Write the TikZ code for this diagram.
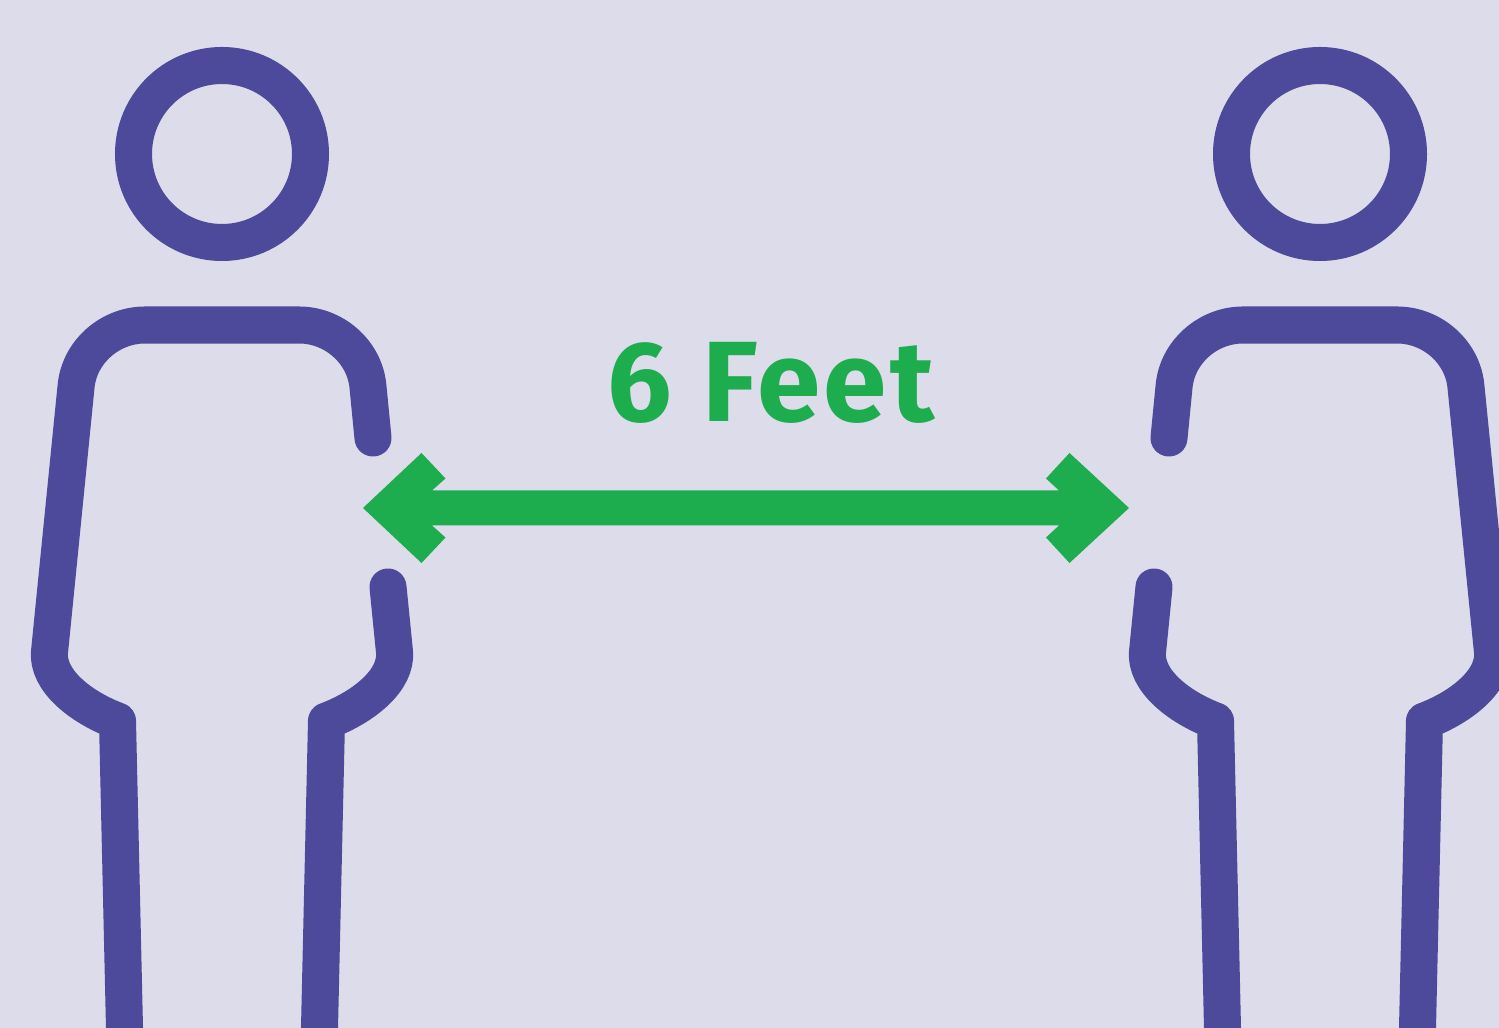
\documentclass[tikz,border=0pt]{standalone}
\usepackage{fontspec}
\usepackage{xcolor}
\usepackage{tikz}
\setmainfont{Fira Sans}
\definecolor{backdrop}{HTML}{DCDCEA}
\definecolor{personblue}{HTML}{4D4A9B}
\definecolor{gapgreen}{HTML}{1DAC4E}

\tikzset{
    outline/.style={draw=personblue, line width=0.37cm, line cap=round, line join=round},
    person/.pic={
        \draw[outline] (222,154) circle[radius=88.5];
        \draw[outline] (373,438) -- (368,387) .. controls (365,352) and (334,325) .. (299,325)
            -- (145,325) .. controls (110,325) and (79,352) .. (76,387)
            -- (49.5,652) .. controls (47,680) and (80,707) .. (117.5,721) -- (125,1050);
        \draw[outline] (388,587) -- (394.5,652) .. controls (397,680) and (364,707) .. (326.5,721) -- (319,1050);
    }
}

\begin{document}
\begin{tikzpicture}[
    x=0.01cm, y=-0.01cm,
    gaptext/.style={text=gapgreen, font=\fontsize{32.5}{36}\selectfont\bfseries\addfontfeature{LetterSpace=3}}
]
\fill[backdrop] (0,0) rectangle (1499,1028);
\useasboundingbox (0,0) rectangle (1499,1028);
\clip (0,0) rectangle (1499,1028);

\pic at (0,0) {person};
\pic[xscale=-1] at (1542,0) {person};

% double arrow
\fill[gapgreen] (363,508) -- (421.5,453) -- (445.5,478.5) -- (432,490.5) -- (1059,490.5)
    -- (1046,478.5) -- (1069.5,453) -- (1129,508) -- (1069.5,563) -- (1046,537.5)
    -- (1059,525.5) -- (432,525.5) -- (445.5,537.5) -- (421.5,563) -- cycle;

\node[gaptext, anchor=base] (distance) at (771,422) {6 Feet};
\end{tikzpicture}
\end{document}
